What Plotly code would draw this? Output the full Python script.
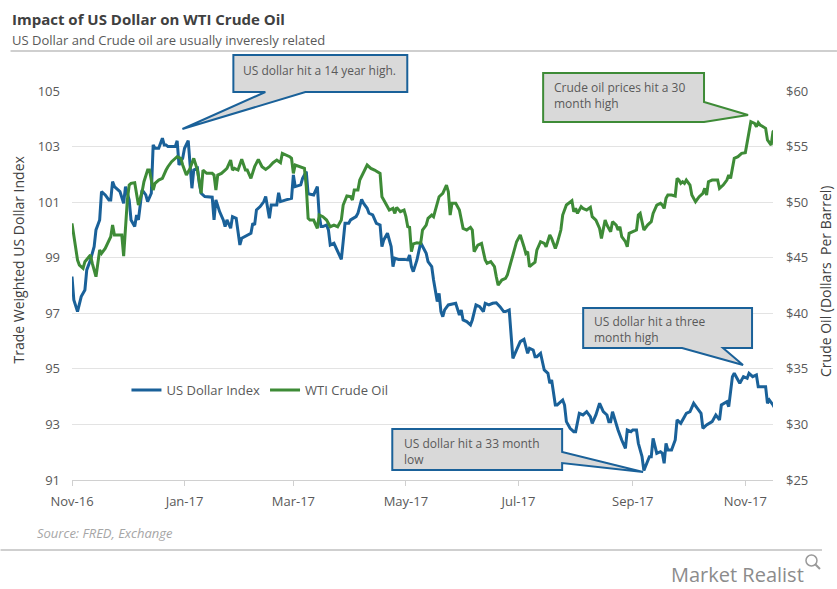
import pandas as pd
import plotly.graph_objects as go

# ---------------- data ----------------
start_date = "2016-11-01"

usd_day = [0, 1, 3, 5, 7, 8, 10, 12, 13, 15, 16, 18, 20, 21, 22, 23, 26, 28, 29, 31, 32, 34, 35, 36, 38, 40, 41, 43,
           44, 45, 47, 49, 50, 51, 52, 56, 57, 58, 60, 61, 63, 64, 65, 66, 68, 69, 70, 72, 76, 77, 78, 80, 82, 83, 84,
           86, 87, 89, 91, 92, 95, 97, 98, 99, 100, 102, 104, 105, 107, 108, 109, 111, 112, 113, 116, 119, 120, 121,
           124, 125, 127, 128, 131, 133, 134, 135, 136, 138, 139, 140, 142, 144, 146, 147, 148, 150, 151, 154, 155,
           157, 158, 160, 161, 163, 165, 167, 168, 169, 171, 173, 174, 175, 177, 180, 182, 183, 184, 185, 186, 187,
           189, 190, 192, 193, 195, 196, 197, 198, 199, 200, 201, 202, 204, 207, 208, 210, 211, 212, 214, 216, 217,
           219, 221, 223, 224, 226, 228, 230, 232, 234, 235, 237, 238, 239, 241, 243, 245, 247, 248, 250, 251, 252,
           254, 256, 258, 259, 260, 262, 263, 266, 267, 268, 270, 272, 273, 275, 277, 279, 281, 282, 284, 285, 286,
           288, 290, 291, 292, 293, 295, 296, 298, 300, 301, 303, 304, 306, 307, 309, 310, 313, 314, 315, 317, 319,
           320, 321, 322, 323, 325, 327, 328, 330, 332, 333, 335, 337, 339, 341, 342, 344, 347, 349, 351, 352, 355,
           356, 358, 359, 361, 362, 364, 366, 367, 369, 371, 372, 373, 376, 377, 378, 380, 381]
usd_index = [98.32, 97.48, 97.06, 97.6, 97.84, 98.56, 98.92, 99.4, 100.0, 100.36, 101.38, 101.26, 101.08, 101.08,
             101.74, 101.56, 101.38, 100.96, 101.56, 101.08, 100.36, 100.12, 100.54, 100.36, 101.44, 101.26, 101.02,
             101.32, 103.06, 102.94, 102.94, 103.3, 103.06, 103.06, 103.0, 103.0, 103.21, 102.34, 102.58, 102.94,
             103.21, 102.4, 101.5, 102.16, 102.22, 101.68, 101.32, 101.2, 101.18, 100.36, 101.08, 100.66, 100.36,
             100.12, 100.36, 100.06, 100.48, 100.42, 99.46, 99.7, 99.82, 99.88, 100.24, 100.18, 100.72, 100.84,
             101.02, 101.2, 100.42, 100.9, 100.9, 100.9, 101.34, 101.02, 101.08, 101.14, 101.98, 101.56, 101.62,
             101.86, 102.1, 101.3, 101.26, 101.56, 100.54, 100.12, 100.12, 100.18, 100.0, 99.46, 99.52, 99.22,
             98.94, 99.58, 100.24, 100.24, 100.36, 100.48, 100.6, 101.1, 100.96, 100.78, 100.6, 100.54, 100.24,
             100.18, 99.4, 99.64, 99.88, 99.4, 98.68, 98.98, 98.94, 98.94, 98.92, 99.1, 98.68, 98.5, 98.68, 98.92,
             99.54, 99.4, 99.16, 98.86, 98.68, 98.2, 97.72, 97.42, 97.72, 97.06, 96.88, 97.12, 97.3, 97.36, 97.36,
             96.94, 97.12, 96.76, 96.7, 96.58, 96.76, 97.3, 97.24, 97.06, 97.36, 97.3, 97.36, 97.38, 97.24, 97.06,
             97.06, 97.12, 96.04, 95.38, 95.68, 95.98, 96.06, 95.56, 95.74, 95.68, 95.44, 95.44, 95.56, 94.96, 94.84,
             94.48, 94.6, 93.7, 93.7, 93.88, 93.7, 93.1, 92.86, 92.74, 92.74, 93.4, 93.34, 93.46, 93.28, 93.04, 93.34,
             93.52, 93.76, 93.46, 93.34, 93.1, 93.1, 93.46, 92.98, 92.8, 92.44, 92.14, 92.8, 92.74, 92.8, 92.8,
             92.32, 91.84, 91.34, 91.84, 91.84, 92.5, 91.96, 92.02, 91.96, 91.6, 92.32, 92.08, 92.08, 92.44, 93.16,
             93.04, 93.28, 93.4, 93.46, 93.76, 93.58, 93.4, 92.86, 92.98, 93.1, 93.34, 93.16, 93.7, 93.82, 93.64,
             94.72, 94.84, 94.6, 94.48, 94.72, 94.66, 94.84, 94.72, 94.78, 94.36, 94.36, 94.36, 93.76, 93.88, 93.7,
             93.58]

wti_day = [0, 1, 3, 4, 6, 7, 10, 11, 13, 15, 16, 18, 20, 21, 22, 23, 25, 27, 28, 30, 31, 32, 34, 36, 38, 39, 41, 42,
           44, 45, 47, 49, 51, 52, 54, 57, 59, 60, 62, 64, 66, 68, 70, 71, 73, 76, 77, 78, 79, 81, 83, 84, 86, 87, 88,
           90, 92, 94, 95, 97, 99, 101, 103, 105, 107, 109, 111, 113, 114, 116, 118, 119, 120, 121, 124, 126, 127,
           128, 129, 131, 133, 134, 136, 138, 140, 142, 144, 146, 147, 149, 151, 152, 153, 155, 156, 158, 160, 162,
           164, 167, 168, 169, 171, 172, 174, 175, 176, 178, 180, 181, 182, 183, 184, 185, 187, 189, 190, 192, 193,
           195, 196, 198, 199, 201, 203, 204, 205, 206, 208, 210, 211, 212, 214, 216, 217, 218, 220, 222, 224, 225,
           227, 229, 230, 231, 233, 235, 236, 238, 239, 241, 243, 245, 246, 247, 248, 249, 251, 252, 254, 256, 257,
           259, 260, 262, 263, 265, 266, 268, 270, 271, 272, 273, 274, 276, 277, 279, 281, 282, 284, 286, 287, 288,
           289, 290, 292, 293, 295, 296, 297, 298, 300, 301, 302, 304, 306, 307, 308, 310, 312, 314, 315, 317, 319,
           320, 321, 322, 323, 325, 327, 328, 329, 330, 331, 332, 333, 335, 336, 338, 340, 342, 343, 344, 345, 347,
           350, 351, 353, 355, 356, 357, 358, 359, 361, 363, 365, 366, 367, 368, 370, 371, 372, 373, 374, 376, 377,
           379, 380, 381]
wti_price = [48.09, 46.89, 44.79, 44.34, 44.04, 44.64, 45.24, 44.49, 43.29, 45.69, 45.39, 45.84, 46.59, 46.89, 47.94,
             47.04, 47.04, 47.04, 45.15, 50.19, 51.54, 51.69, 51.75, 49.74, 50.94, 51.84, 52.89, 52.89, 51.09, 51.69,
             51.99, 52.14, 52.89, 53.19, 53.64, 54.09, 53.94, 53.34, 52.44, 53.04, 53.94, 52.89, 50.79, 52.89, 52.59,
             52.59, 52.44, 51.09, 52.44, 52.59, 52.89, 53.04, 53.79, 52.89, 53.04, 52.89, 53.85, 52.89, 52.89, 52.14,
             53.19, 53.85, 53.19, 52.95, 53.19, 53.55, 53.79, 53.55, 54.39, 54.24, 54.09, 53.94, 52.59, 53.34, 53.19,
             53.04, 51.39, 48.54, 48.39, 48.39, 47.64, 48.84, 48.69, 48.39, 47.79, 47.94, 47.79, 48.39, 49.74, 50.55,
             50.49, 50.19, 51.09, 51.09, 51.99, 52.74, 53.34, 53.04, 52.89, 52.59, 50.49, 50.19, 49.59, 49.29, 49.44,
             48.99, 49.53, 49.14, 49.29, 48.69, 47.79, 47.73, 45.54, 46.24, 46.34, 46.29, 47.49, 47.94, 48.54, 48.84,
             48.69, 50.04, 50.49, 50.79, 51.54, 50.94, 48.84, 49.89, 49.89, 49.29, 48.39, 47.64, 47.49, 47.73, 47.49,
             45.54, 46.14, 46.29, 44.79, 44.49, 44.64, 44.19, 43.29, 42.54, 42.99, 43.14, 43.44, 44.79, 45.24, 46.44,
             47.04, 45.99, 45.39, 45.54, 44.19, 44.34, 44.6, 45.69, 46.44, 46.29, 45.99, 47.04, 46.74, 45.84, 46.29,
             47.49, 48.84, 49.74, 50.04, 50.13, 49.14, 49.44, 48.99, 49.59, 49.44, 49.29, 49.53, 48.69, 48.39, 47.64,
             46.74, 47.49, 48.39, 47.94, 47.34, 48.24, 47.94, 47.49, 47.79, 46.89, 46.44, 45.99, 47.19, 47.34, 47.49,
             48.84, 48.99, 47.49, 47.94, 48.24, 48.99, 49.74, 49.89, 49.74, 49.44, 50.34, 50.64, 50.64, 50.55, 52.14,
             51.99, 51.69, 51.84, 51.69, 51.99, 51.54, 50.64, 50.04, 50.49, 50.79, 51.24, 50.64, 51.84, 51.99, 51.99,
             51.24, 51.54, 51.99, 52.44, 52.14, 52.89, 53.94, 54.09, 54.39, 54.45, 55.29, 56.19, 57.24, 57.09, 56.79,
             57.15, 56.94, 56.85, 56.64, 55.59, 55.14, 56.34, 56.49]

tick_dates = ["2016-11-01", "2017-01-01", "2017-03-01", "2017-05-01", "2017-07-01", "2017-09-01", "2017-11-01"]
tick_labels = ["Nov-16", "Jan-17", "Mar-17", "May-17", "Jul-17", "Sep-17", "Nov-17"]
usd_ticks = [91, 93, 95, 97, 99, 101, 103, 105]
wti_ticks = [25, 30, 35, 40, 45, 50, 55, 60]

# ---------------- figure ----------------
t0 = pd.Timestamp(start_date)
usd_x = t0 + pd.to_timedelta(usd_day, unit="D")
wti_x = t0 + pd.to_timedelta(wti_day, unit="D")

BLUE = "#1a6199"
GREEN = "#3e8b37"
GREY_TXT = "#595959"
FONT = "Open Sans"

W, H = 837, 589
L, R, T, B = 71.5, 773, 91, 480


def px(x):
    return (x - L) / (R - L)


def py(y):
    return (B - y) / (B - T)


fig = go.Figure()
fig.add_trace(go.Scatter(x=usd_x, y=usd_index, name="US Dollar Index", mode="lines",
                         line=dict(color=BLUE, width=3), yaxis="y"))
fig.add_trace(go.Scatter(x=wti_x, y=wti_price, name="WTI Crude Oil", mode="lines",
                         line=dict(color=GREEN, width=3), yaxis="y2"))

end_date = t0 + pd.Timedelta(days=380)

fig.update_layout(
    width=W, height=H,
    margin=dict(l=L, r=W - R, t=T, b=H - B, autoexpand=False),
    plot_bgcolor="white", paper_bgcolor="white",
    font=dict(family=FONT, size=13, color=GREY_TXT),
    showlegend=True,
    legend=dict(orientation="h", x=px(126), y=py(390), xanchor="left", yanchor="middle",
                bgcolor="rgba(0,0,0,0)", font=dict(size=13, color=GREY_TXT), itemwidth=30),
    xaxis=dict(type="date", range=[t0, end_date], tickvals=tick_dates, ticktext=tick_labels,
               showgrid=False, showline=True, linecolor="#d0d0d0", linewidth=1,
               ticks="outside", ticklen=5, tickcolor="#d0d0d0", tickfont=dict(size=13, color=GREY_TXT),
               ticklabelstandoff=4, zeroline=False),
    yaxis=dict(range=[91, 105], tickvals=usd_ticks, showgrid=True, gridcolor="#e3e3e3", gridwidth=1,
               zeroline=False, showline=False, ticks="", tickfont=dict(size=13, color=GREY_TXT),
               ticklabelstandoff=11),
    yaxis2=dict(range=[25, 60], tickvals=wti_ticks, ticktext=["$%d" % v for v in wti_ticks],
                overlaying="y", side="right", showgrid=False, zeroline=False, showline=False,
                tickfont=dict(size=13, color=GREY_TXT), ticklabelstandoff=12),
)

shapes = []


def poly(points, border):
    d = "M " + " L ".join("%.4f,%.4f" % (px(a), py(b)) for a, b in points) + " Z"
    shapes.append(dict(type="path", xref="paper", yref="paper", path=d,
                       fillcolor="#d9d9d9", line=dict(color=border, width=2), layer="above"))


poly([(233, 55), (407, 55), (407, 92), (305, 92), (182, 129), (265, 92), (233, 92)], BLUE)
poly([(543, 73), (704, 73), (704, 102), (748, 115), (704, 122), (543, 122)], GREEN)
poly([(583, 308), (752, 308), (752, 348), (723, 348), (743, 365), (682, 348), (583, 348)], BLUE)
poly([(392, 429), (562, 429), (562, 452), (643, 472), (562, 463), (562, 470), (392, 470)], BLUE)

# header / footer rules
shapes.append(dict(type="line", xref="paper", yref="paper", x0=px(10), x1=px(837), y0=py(51), y1=py(51),
                   line=dict(color="#bfbfbf", width=1.5)))
shapes.append(dict(type="line", xref="paper", yref="paper", x0=px(0), x1=px(822), y0=py(550), y1=py(550),
                   line=dict(color="#bfbfbf", width=1.5)))
# small magnifier icon of the logo
shapes.append(dict(type="circle", xref="paper", yref="paper", x0=px(806), x1=px(817), y0=py(566), y1=py(555),
                   line=dict(color="#9a9a9a", width=1.5)))
shapes.append(dict(type="line", xref="paper", yref="paper", x0=px(815), x1=px(820), y0=py(564), y1=py(569),
                   line=dict(color="#9a9a9a", width=2)))
fig.update_layout(shapes=shapes)

ann = []


def note(x, y, text, size=12, color=GREY_TXT, xanchor="left", angle=0):
    ann.append(dict(xref="paper", yref="paper", x=px(x), y=py(y), text=text, showarrow=False,
                    xanchor=xanchor, yanchor="middle", align="left", textangle=angle,
                    font=dict(family=FONT, size=size, color=color)))


note(241, 70, "US dollar hit a 14 year high.")
note(552, 95, "Crude oil prices hit a 30<br>month high")
note(592, 329, "US dollar hit a three<br>month high")
note(402, 451, "US dollar hit a 33 month<br>low")
note(9, 19, "<b>Impact of US Dollar on WTI Crude Oil</b>", size=15, color="#404040")
note(9, 40, "US Dollar and Crude oil are usually inveresly related", size=13, color=GREY_TXT)
note(34, 533, "<i>Source: FRED, Exchange</i>", size=13, color="#a6a6a6")
note(806, 574, "Market Realist", size=20, color="#8c8c8c", xanchor="right")
# axis titles
note(17, 260, "Trade Weighted US Dollar Index", size=14, color="#404040", xanchor="center", angle=-90)
note(825, 281, "Crude Oil (Dollars\u00a0 Per Barrel)", size=14, color="#404040", xanchor="center", angle=-90)
fig.update_layout(annotations=ann)

fig.write_html("out.html", config={"displayModeBar": False},
               post_script="document.body.style.margin='0';document.body.style.overflow='hidden';")
